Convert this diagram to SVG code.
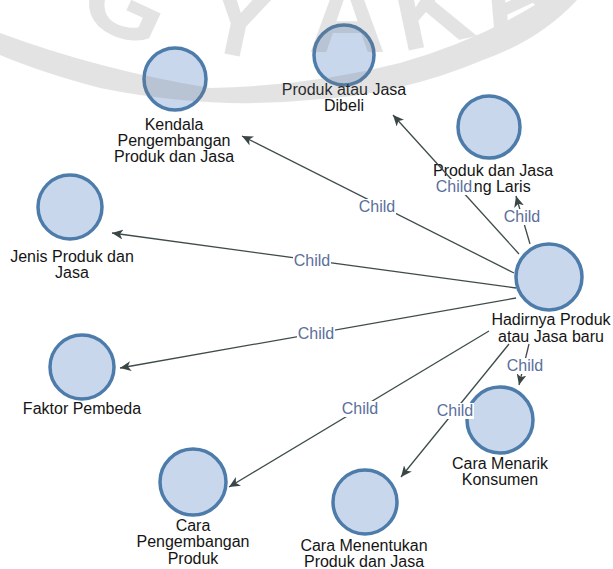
<svg xmlns="http://www.w3.org/2000/svg" width="613" height="569" viewBox="0 0 613 569">
<defs>
<marker id="arr" markerUnits="userSpaceOnUse" markerWidth="12" markerHeight="10" refX="11" refY="5" orient="auto">
<path d="M0,0 L11,5 L0,10 L3,5 Z" fill="#3a4646"/>
</marker>
<style>
.node circle{fill:#c8d7eb;stroke:#4d7cab;stroke-width:3.5}
.lbl{font-family:"Liberation Sans",Arial,sans-serif;font-size:16px;fill:#151515;text-anchor:middle}
.edge{stroke:#3f4b4b;stroke-width:1.3;fill:none;marker-end:url(#arr)}
.elbl text{font-family:"Liberation Sans",Arial,sans-serif;font-size:16px;fill:#5a6f9c;text-anchor:middle}
.elbl rect{fill:#ffffff}
.wm{fill:#7a7a7a;opacity:0.2}
.wmt{font-family:"Liberation Sans",Arial,sans-serif;font-size:108px;font-weight:bold;text-anchor:middle}
</style>
</defs>
<rect width="613" height="569" fill="#ffffff"/>

<g id="node-dibeli" class="node">
<circle cx="344" cy="55" r="30"/>
<text class="lbl" x="344" y="95">Produk atau Jasa</text>
<text class="lbl" x="344" y="111">Dibeli</text>
</g>
<g id="node-kendala" class="node">
<circle cx="175" cy="79" r="31"/>
<text class="lbl" x="174" y="130">Kendala</text>
<text class="lbl" x="174" y="146">Pengembangan</text>
<text class="lbl" x="174" y="162">Produk dan Jasa</text>
</g>
<g id="node-laris" class="node">
<circle cx="489" cy="127" r="31"/>
<text class="lbl" x="493" y="176">Produk dan Jasa</text>
<text class="lbl" x="493" y="192">Yang Laris</text>
</g>
<g id="node-jenis" class="node">
<circle cx="70" cy="207" r="32"/>
<text class="lbl" x="72" y="262">Jenis Produk dan</text>
<text class="lbl" x="72" y="278">Jasa</text>
</g>
<g id="node-faktor" class="node">
<circle cx="82" cy="367" r="32"/>
<text class="lbl" x="82" y="414">Faktor Pembeda</text>
</g>
<g id="node-hadirnya" class="node">
<circle cx="549" cy="277" r="33"/>
<text class="lbl" x="551" y="325">Hadirnya Produk</text>
<text class="lbl" x="551" y="342">atau Jasa baru</text>
</g>
<g id="node-menarik" class="node">
<circle cx="500" cy="420" r="33"/>
<text class="lbl" x="500" y="469">Cara Menarik</text>
<text class="lbl" x="500" y="485">Konsumen</text>
</g>
<g id="node-menentukan" class="node">
<circle cx="365" cy="502" r="32"/>
<text class="lbl" x="364" y="551">Cara Menentukan</text>
<text class="lbl" x="364" y="567">Produk dan Jasa</text>
</g>
<g id="node-pengembangan" class="node">
<circle cx="193" cy="482" r="33"/>
<text class="lbl" x="193" y="531">Cara</text>
<text class="lbl" x="193" y="547">Pengembangan</text>
<text class="lbl" x="193" y="564">Produk</text>
</g>

<g id="connectors">
<path class="edge" d="M519,254 L393,115"/>
<path class="edge" d="M530,244 L516,196"/>
<path class="edge" d="M514,273 L242,136"/>
<path class="edge" d="M516,288 L112,233"/>
<path class="edge" d="M516,298 L120,368"/>
<path class="edge" d="M489,331 L229,487"/>
<path class="edge" d="M509,344 L401,477"/>
<path class="edge" d="M529,344 L519,385"/>
<g class="elbl">
<rect x="435" y="179" width="38" height="16"/><text x="454" y="192">Child</text>
<rect x="503" y="209" width="38" height="16"/><text x="522" y="222">Child</text>
<rect x="358" y="199" width="38" height="16"/><text x="377" y="212">Child</text>
<rect x="293" y="253" width="38" height="16"/><text x="312" y="266">Child</text>
<rect x="297" y="326" width="38" height="16"/><text x="316" y="339">Child</text>
<rect x="341" y="401" width="38" height="16"/><text x="360" y="414">Child</text>
<rect x="436" y="403" width="38" height="16"/><text x="455" y="416">Child</text>
<rect x="506" y="358" width="38" height="16"/><text x="525" y="371">Child</text>
</g>
</g>

<g id="watermark" class="wm">
<path d="M0,33 Q100,70 210,88 Q310,86 400,63 Q480,40 543,0 L577,0 Q540,40 483,60 Q400,95 310,100 Q210,110 100,88 Q40,72 0,55 Z"/>
<text class="wmt" transform="translate(112,34) rotate(25)">G</text>
<text class="wmt" transform="translate(232,55) rotate(12)">Y</text>
<text class="wmt" transform="translate(347,52)">A</text>
<text class="wmt" transform="translate(440,44) rotate(-12)">K</text>
<text class="wmt" transform="translate(528,26) rotate(-25)">A</text>
</g>
</svg>
